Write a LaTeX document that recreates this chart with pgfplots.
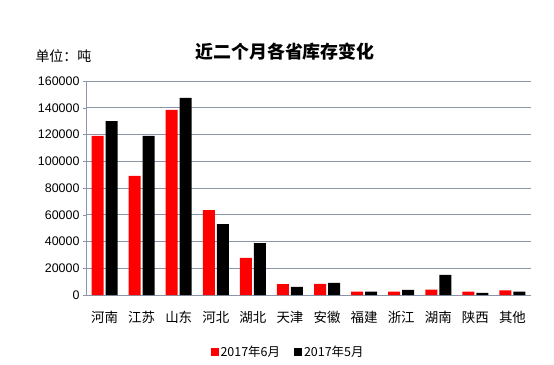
\documentclass[border=0pt]{standalone}
\usepackage{pgfplots}
\pgfplotsset{compat=1.18}
\usepackage{fontspec}
\setmainfont{Liberation Sans}
\newfontfamily\cjk{Noto Sans CJK SC}
\definecolor{gridc}{HTML}{8A96A8}
\begin{document}
\begin{tikzpicture}[x=1bp,y=1bp]
\useasboundingbox (0,0) rectangle (554,364);
\begin{axis}[
  at={(86bp,69bp)}, anchor=south west,
  scale only axis, width=445bp, height=214bp,
  ymin=0, ymax=160000, ytick={0,20000,...,160000},
  xmin=-0.5, xmax=11.5, xtick={0,...,11},
  xticklabels={河南,江苏,山东,河北,湖北,天津,安徽,福建,浙江,湖南,陕西,其他},
  x tick label style={font=\cjk\fontsize{13.5}{15}\selectfont, yshift=-10bp},
  y tick label style={font=\fontsize{12.5}{14}\selectfont},
  /pgf/number format/assume math mode=true,
  scaled y ticks=false,
  yticklabel={\pgfmathprintnumber[fixed,1000 sep={}]{\tick}},
  ymajorgrids, grid style={gridc, line width=0.8pt},
  axis x line*=bottom, axis y line*=left,
  axis line style={gridc, line width=0.8pt},
  x axis line style={-}, y axis line style={-},
  major x tick style={draw=none},
  major y tick style={gridc}, tick align=outside, major tick length=3bp,
  ybar, bar width=12bp,
  legend style={at={(0.454,-0.266)}, anchor=center, draw=none, legend columns=2,
    font=\cjk\fontsize{12.5}{14}\selectfont, /tikz/every even column/.append style={column sep=12bp}},
  legend image code/.code={\fill[#1] (0bp,-4bp) rectangle (8bp,4bp);},
]
\addplot[fill=red, draw=none, bar shift=-7bp] coordinates {
(0,119000) (1,89000) (2,138500) (3,63500) (4,27800) (5,8200) (6,8300) (7,2500) (8,2500) (9,4000) (10,2500) (11,3500)};
\addplot[fill=black, draw=none, bar shift=7bp] coordinates {
(0,130000) (1,119000) (2,147300) (3,53000) (4,38800) (5,6000) (6,9000) (7,2500) (8,3800) (9,15000) (10,1500) (11,2500)};
\legend{2017年6月,2017年5月}
\end{axis}
\node[anchor=west, font=\cjk\fontsize{14}{16}\selectfont] at (32bp,308bp) {单位：吨};
\node[font=\cjk\bfseries\fontsize{18}{20}\selectfont] at (285bp,312bp) {近二个月各省库存变化};
\end{tikzpicture}
\end{document}
